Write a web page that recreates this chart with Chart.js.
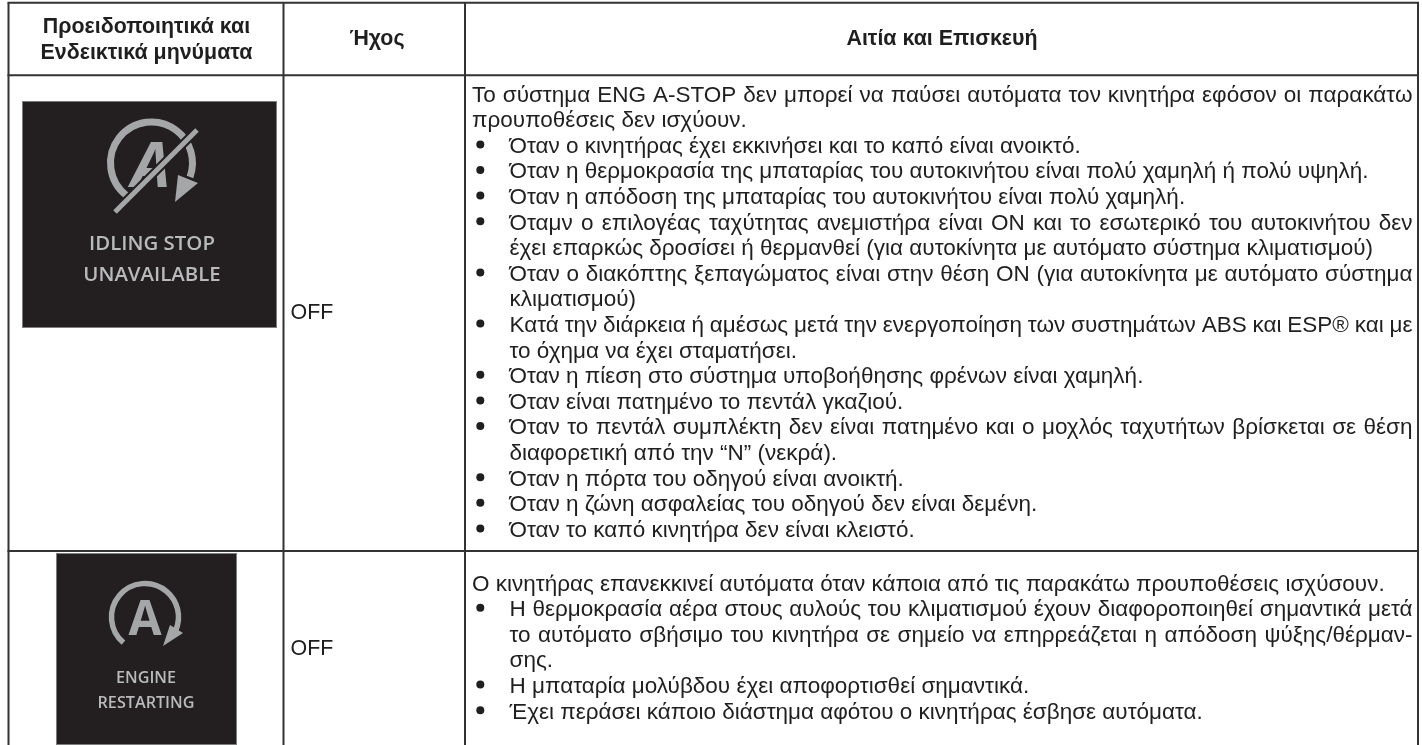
<!DOCTYPE html>
<html lang="el"><head><meta charset="utf-8">
<style>html,body{margin:0;padding:0;background:#fff;overflow:hidden}canvas{display:block;filter:blur(.45px)}</style>
<script src="https://cdn.jsdelivr.net/npm/chart.js@4"></script></head>
<body><canvas id="c" width="1422" height="745"></canvas>
<script>
const headerLeft = ["Προειδοποιητικά και", "Ενδεικτικά μηνύματα"];
const headerMiddle = "Ήχος";
const headerRight = "Αιτία και Επισκευή";
const soundValues = ["OFF", "OFF"];
const panelOneLabels = ["IDLING STOP", "UNAVAILABLE"];
const panelTwoLabels = ["ENGINE", "RESTARTING"];
const introOne = ["Το σύστημα ENG A-STOP δεν μπορεί να παύσει αυτόματα τον κινητήρα εφόσον οι παρακάτω", "προυποθέσεις δεν ισχύουν."];
const bulletsOne = [
 ["Όταν ο κινητήρας έχει εκκινήσει και το καπό είναι ανοικτό."],
 ["Όταν η θερμοκρασία της μπαταρίας του αυτοκινήτου είναι πολύ χαμηλή ή πολύ υψηλή."],
 ["Όταν η απόδοση της μπαταρίας του αυτοκινήτου είναι πολύ χαμηλή."],
 ["Όταμν ο επιλογέας ταχύτητας ανεμιστήρα είναι ON και το εσωτερικό του αυτοκινήτου δεν", "έχει επαρκώς δροσίσει ή θερμανθεί (για αυτοκίνητα με αυτόματο σύστημα κλιματισμού)"],
 ["Όταν ο διακόπτης ξεπαγώματος είναι στην θέση ON (για αυτοκίνητα με αυτόματο σύστημα", "κλιματισμού)"],
 ["Κατά την διάρκεια ή αμέσως μετά την ενεργοποίηση των συστημάτων ABS και ESP® και με", "το όχημα να έχει σταματήσει."],
 ["Όταν η πίεση στο σύστημα υποβοήθησης φρένων είναι χαμηλή."],
 ["Όταν είναι πατημένο το πεντάλ γκαζιού."],
 ["Όταν το πεντάλ συμπλέκτη δεν είναι πατημένο και ο μοχλός ταχυτήτων βρίσκεται σε θέση", "διαφορετική από την “N” (νεκρά)."],
 ["Όταν η πόρτα του οδηγού είναι ανοικτή."],
 ["Όταν η ζώνη ασφαλείας του οδηγού δεν είναι δεμένη."],
 ["Όταν το καπό κινητήρα δεν είναι κλειστό."]
];
const introTwo = ["Ο κινητήρας επανεκκινεί αυτόματα όταν κάποια από τις παρακάτω προυποθέσεις ισχύσουν."];
const bulletsTwo = [
 ["Η θερμοκρασία αέρα στους αυλούς του κλιματισμού έχουν διαφοροποιηθεί σημαντικά μετά", "το αυτόματο σβήσιμο του κινητήρα σε σημείο να επηρρεάζεται η απόδοση ψύξης/θέρμαν-", "σης."],
 ["Η μπαταρία μολύβδου έχει αποφορτισθεί σημαντικά."],
 ["Έχει περάσει κάποιο διάστημα αφότου ο κινητήρας έσβησε αυτόματα."]
];
const columnEdges = [8.5, 283.5, 465, 1418];
const rowEdges = [2.7, 75.2, 551];
const INK = "#1f1f1f", RULE = "#333", PANEL = "#231f20", GLYPH = "#a4a6a8", LABEL = "#b9babb", EDGE = "#7d7d7d";
const BODY = '22.5px "Liberation Sans"', BOLD = 'bold 21.4px "Liberation Sans"';
const LEAD = 25.6, TEXT_X = 472, BULLET_X = 480.3, ITEM_X = 509.5, RIGHT_X = 1412.5;

function layout(intro, bullets, centerY) {
  const rows = [], dots = []; let y = centerY;
  intro.forEach((t, i) => { rows.push({t, x: TEXT_X, y, j: i < intro.length - 1}); y += LEAD; });
  bullets.forEach(b => { dots.push({x: BULLET_X, y: y - 0.8});
    b.forEach((t, i) => { rows.push({t, x: ITEM_X, y, j: i < b.length - 1}); y += LEAD; }); });
  return {rows, dots};
}
const secOne = layout(introOne, bulletsOne, 94);
const secTwo = layout(introTwo, bulletsTwo, 583);

const rules = [];
columnEdges.forEach(x => rules.push([{x, y: rowEdges[0]}, {x, y: 745}]));
rowEdges.forEach(y => rules.push([{x: columnEdges[0] - 1, y}, {x: columnEdges[3] + 1, y}]));

function panelOne(ctx) {
  ctx.fillStyle = PANEL; ctx.fillRect(23, 102, 253, 225);
  ctx.strokeStyle = EDGE; ctx.lineWidth = 1; ctx.strokeRect(22.5, 101.5, 254, 226);
  ctx.strokeStyle = GLYPH; ctx.fillStyle = GLYPH; ctx.lineWidth = 7; ctx.lineCap = "butt";
  ctx.beginPath(); ctx.arc(151.5, 163, 41, 127.6 * Math.PI / 180, 380 * Math.PI / 180); ctx.stroke();
  ctx.beginPath(); ctx.moveTo(175, 202); ctx.lineTo(198, 183); ctx.lineTo(178, 175); ctx.closePath(); ctx.fill();
  ctx.font = 'italic bold 62px "Open Sans"'; ctx.textAlign = "center"; ctx.textBaseline = "alphabetic";
  ctx.fillText("A", 151, 187);
  ctx.strokeStyle = PANEL; ctx.lineWidth = 9; ctx.beginPath(); ctx.moveTo(116, 211); ctx.lineTo(197, 130); ctx.stroke();
  ctx.strokeStyle = GLYPH; ctx.lineWidth = 5; ctx.beginPath(); ctx.moveTo(115, 212); ctx.lineTo(197, 130); ctx.stroke();
  ctx.fillStyle = LABEL; ctx.font = '600 20.4px "Open Sans"';
  ctx.fillText(panelOneLabels[0], 152, 250); ctx.fillText(panelOneLabels[1], 152, 281);
}
function panelTwo(ctx) {
  ctx.fillStyle = PANEL; ctx.fillRect(57, 553.5, 179, 190.5);
  ctx.strokeStyle = EDGE; ctx.lineWidth = 1; ctx.strokeRect(56.5, 553.5, 180, 191);
  ctx.strokeStyle = GLYPH; ctx.fillStyle = GLYPH; ctx.lineWidth = 5.5; ctx.lineCap = "butt";
  ctx.beginPath(); ctx.arc(145, 617, 33.5, 130 * Math.PI / 180, 383 * Math.PI / 180); ctx.stroke();
  ctx.beginPath(); ctx.moveTo(163, 646); ctx.lineTo(183, 633); ctx.lineTo(170, 625); ctx.closePath(); ctx.fill();
  ctx.font = 'bold 48px "Open Sans"'; ctx.textAlign = "center"; ctx.textBaseline = "alphabetic";
  ctx.fillText("A", 145, 635);
  ctx.fillStyle = LABEL; ctx.font = '600 16.2px "Open Sans"';
  ctx.fillText(panelTwoLabels[0], 146, 683); ctx.fillText(panelTwoLabels[1], 146, 708);
}
function drawRow(ctx, r) {
  ctx.textAlign = "left"; ctx.font = BODY; ctx.wordSpacing = "0px";
  if (r.j) {
    const gaps = r.t.split(" ").length - 1;
    const extra = (RIGHT_X - r.x - ctx.measureText(r.t).width) / gaps;
    ctx.wordSpacing = extra + "px";
  }
  ctx.fillText(r.t, r.x, r.y + 7.5);
  ctx.wordSpacing = "0px";
}
const tablePlugin = {
  id: "tableText",
  beforeDatasetsDraw(chart) {
    const ctx = chart.ctx; ctx.save();
    panelOne(ctx); panelTwo(ctx);
    ctx.restore();
  },
  afterDatasetsDraw(chart) {
    const ctx = chart.ctx; ctx.save();
    ctx.fillStyle = INK; ctx.textBaseline = "alphabetic"; ctx.textAlign = "center"; ctx.font = BOLD;
    ctx.fillText(headerLeft[0], 146.5, 32.5); ctx.fillText(headerLeft[1], 146.5, 58.5);
    ctx.fillText(headerMiddle, 377, 45.3); ctx.fillText(headerRight, 942, 45.3);
    ctx.textAlign = "left"; ctx.font = '21.4px "Liberation Sans"';
    ctx.fillText(soundValues[0], 290.5, 318.7); ctx.fillText(soundValues[1], 290.5, 654.7);
    secOne.rows.concat(secTwo.rows).forEach(r => drawRow(ctx, r));
    ctx.restore();
  }
};
const lineSets = rules.map(data => ({type: "scatter", data, showLine: true, borderColor: RULE, borderWidth: 2, pointRadius: 0, borderCapStyle: "butt"}));
new Chart(document.getElementById("c"), {
  type: "scatter",
  data: {datasets: lineSets.concat([{data: secOne.dots.concat(secTwo.dots), backgroundColor: INK, borderWidth: 0, pointRadius: 4, pointStyle: "circle"}])},
  options: {
    responsive: false, animation: false, devicePixelRatio: 1,
    layout: {autoPadding: false, padding: 0},
    plugins: {legend: {display: false}, tooltip: {enabled: false}, title: {display: false}},
    scales: {
      x: {type: "linear", display: false, min: 0, max: 1422},
      y: {type: "linear", display: false, min: 0, max: 745, reverse: true}
    }
  },
  plugins: [tablePlugin]
});
</script></body></html>
